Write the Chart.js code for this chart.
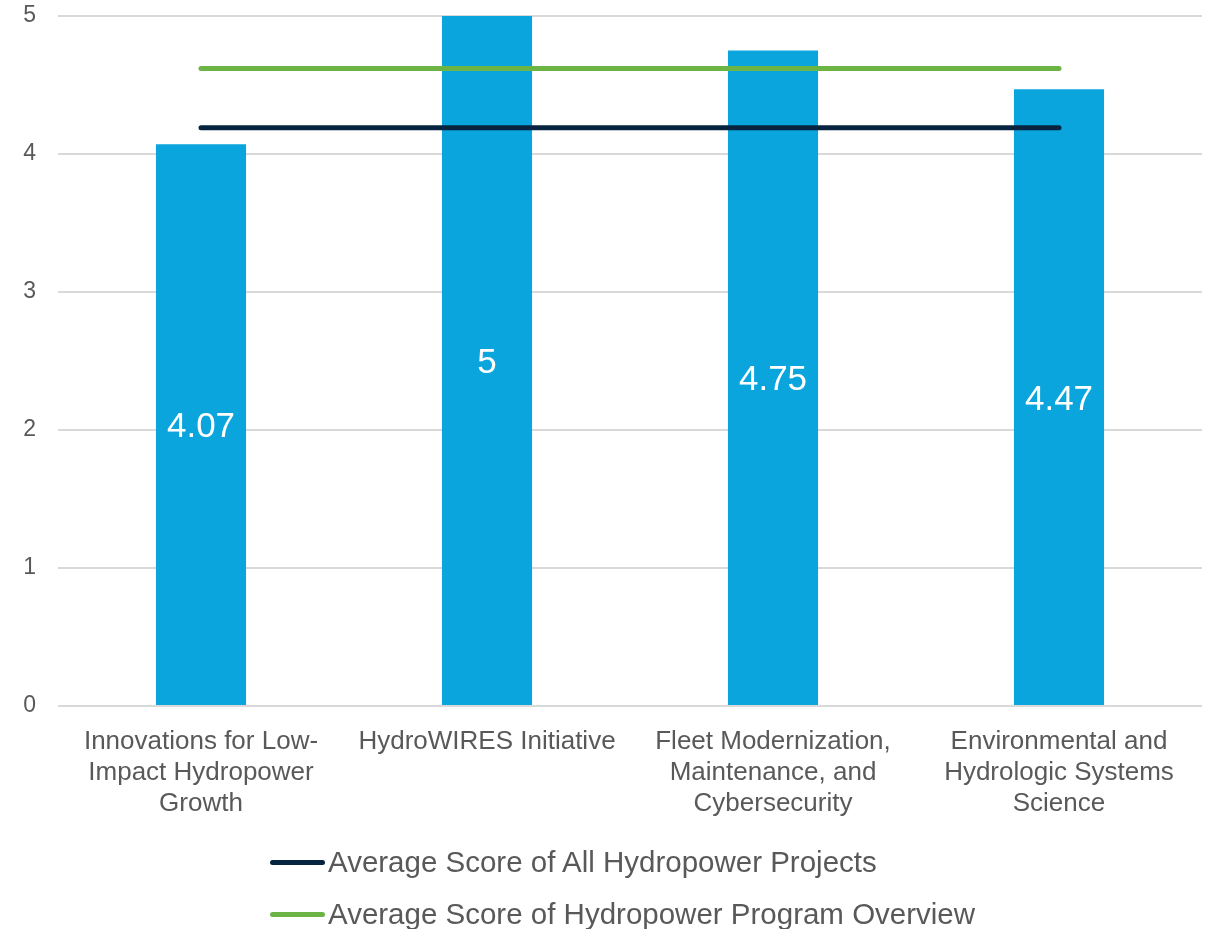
<!DOCTYPE html>
<html>
<head>
<meta charset="utf-8">
<script src="https://cdn.jsdelivr.net/npm/chart.js@4.4.1/dist/chart.umd.min.js"></script>
<style>
  html, body { margin: 0; padding: 0; background: #fff; }
  #wrap { position: relative; width: 1211px; height: 929px; }
  #legend { position: absolute; left: 270px; top: 836px; font-family: "Liberation Sans", Arial, sans-serif; font-size: 29.5px; color: #595959; }
  .leg-row { display: flex; align-items: center; height: 52px; white-space: nowrap; }
  .leg-line { width: 55px; height: 5px; border-radius: 3px; margin-right: 3px; }
</style>
</head>
<body>
<div id="wrap">
  <canvas id="scoreChart" width="1211" height="929"></canvas>
  <div id="legend"></div>
</div>
<script>
const categories = [
    ['Innovations for Low-', 'Impact Hydropower', 'Growth'],
    ['HydroWIRES Initiative'],
    ['Fleet Modernization,', 'Maintenance, and', 'Cybersecurity'],
    ['Environmental and', 'Hydrologic Systems', 'Science']
];
const scores = [4.07, 5, 4.75, 4.47];
const allProjectsAvg = [4.19, 4.19, 4.19, 4.19];
const programOverviewAvg = [4.62, 4.62, 4.62, 4.62];
const yTicks = [0, 1, 2, 3, 4, 5];

const FONT = '"Liberation Sans", Arial, sans-serif';
const TEXT_COLOR = '#595959';

// white value labels in the middle of each bar
const barValueLabels = {
    id: 'barValueLabels',
    afterDatasetsDraw(chart) {
        const meta = chart.getDatasetMeta(2);
        const ctx = chart.ctx;
        const size = 35;
        ctx.save();
        ctx.fillStyle = '#ffffff';
        ctx.font = size + 'px ' + FONT;
        ctx.textAlign = 'center';
        ctx.textBaseline = 'alphabetic';
        meta.data.forEach((bar, i) => {
            const mid = (bar.y + bar.base) / 2;
            // centre the digits (cap height ~0.72em) on the bar middle
            ctx.fillText(String(scores[i]), bar.x, mid + size * 0.36);
        });
        ctx.restore();
    }
};

const ctx = document.getElementById('scoreChart');
const chart = new Chart(ctx, {
    type: 'bar',
    data: {
        labels: categories,
        datasets: [
            {
                type: 'line',
                label: 'Average Score of All Hydropower Projects',
                data: allProjectsAvg,
                borderColor: '#06233f',
                backgroundColor: '#06233f',
                borderWidth: 5,
                borderCapStyle: 'round',
                pointRadius: 0,
                order: 0
            },
            {
                type: 'line',
                label: 'Average Score of Hydropower Program Overview',
                data: programOverviewAvg,
                borderColor: '#6cb545',
                backgroundColor: '#6cb545',
                borderWidth: 5,
                borderCapStyle: 'round',
                pointRadius: 0,
                order: 0
            },
            {
                type: 'bar',
                label: 'Score',
                data: scores,
                backgroundColor: '#0ba5de',
                barPercentage: 0.315,
                categoryPercentage: 1,
                order: 1
            }
        ]
    },
    options: {
        responsive: false,
        animation: false,
        layout: { padding: { top: 16, right: 9, left: 0, bottom: 0 } },
        plugins: {
            legend: { display: false },
            tooltip: { enabled: false }
        },
        scales: {
            x: {
                grid: { display: false, drawTicks: false },
                border: { display: false },
                ticks: {
                    color: TEXT_COLOR,
                    font: { family: FONT, size: 26, lineHeight: 1.19 },
                    padding: 20,
                    maxRotation: 0,
                    autoSkip: false
                },
                afterFit(scale) { scale.height = 223; }
            },
            y: {
                min: 0,
                max: 5,
                afterBuildTicks(scale) { scale.ticks = yTicks.map(v => ({ value: v })); },
                grid: { color: '#d9d9d9', lineWidth: 2, drawTicks: false },
                border: { display: false },
                ticks: {
                    color: TEXT_COLOR,
                    font: { family: FONT, size: 23 },
                    padding: 22
                },
                afterFit(scale) {
                    scale.width = 58;
                    scale.paddingTop = 0;
                    scale.paddingBottom = 0;
                }
            }
        }
    },
    plugins: [barValueLabels]
});

// legend rows, both left-aligned as in the source
const legendEl = document.getElementById('legend');
chart.data.datasets.filter(d => d.type === 'line').forEach(d => {
    const row = document.createElement('div');
    row.className = 'leg-row';
    const line = document.createElement('span');
    line.className = 'leg-line';
    line.style.background = d.borderColor;
    const txt = document.createElement('span');
    txt.textContent = d.label;
    row.appendChild(line);
    row.appendChild(txt);
    legendEl.appendChild(row);
});
</script>
</body>
</html>
